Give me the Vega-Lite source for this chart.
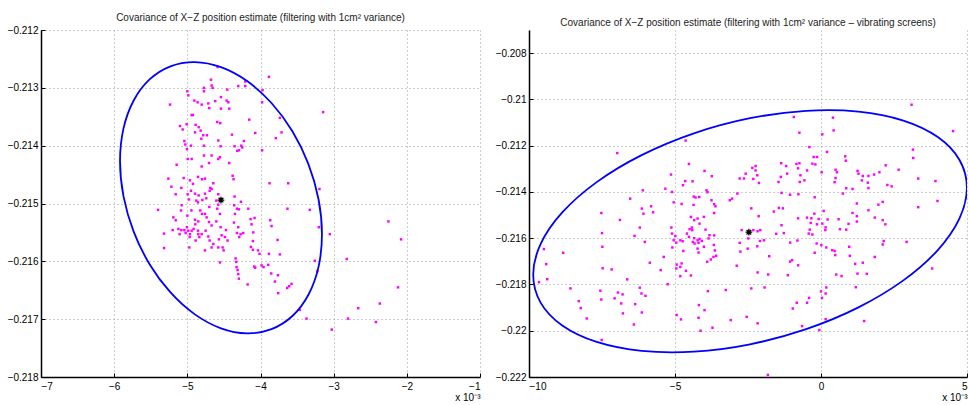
{
 "$schema": "https://vega.github.io/schema/vega-lite/v6.json",
 "background": "white",
 "padding": {"left": 7, "top": 13, "right": 0, "bottom": 0},
 "spacing": 49,
 "bounds": "flush",
 "config": {
  "font": "Liberation Sans",
  "view": {"stroke": null},
  "axis": {"grid": true, "gridColor": "#9a9a9a", "gridDash": [1, 3], "gridWidth": 1, "domainColor": "black", "domainWidth": 1.5, "tickColor": "black", "tickSize": -4, "labelFont": "Liberation Sans", "labelFontSize": 10, "labelColor": "black", "labelPadding": 7, "titleFont": "Liberation Sans", "titleFontSize": 10, "titleFontWeight": "normal", "titleColor": "black"},
  "axisX": {"labelPadding": 8},
  "title": {"font": "Liberation Sans", "fontSize": 10, "fontWeight": "normal", "color": "#222222", "offset": 2}
 },
 "datasets": {
  "leftPts": [
   {"x":-4.586,"z":-0.21264},{"x":-4.677,"z":-0.21286},{"x":-4.668,"z":-0.21296},{"x":-4.208,"z":-0.21289},{"x":-3.885,"z":-0.21281},
   {"x":-5.0,"z":-0.21306},{"x":-4.986,"z":-0.21313},{"x":-5.237,"z":-0.21329},{"x":-4.773,"z":-0.213},{"x":-4.773,"z":-0.21306},
   {"x":-4.654,"z":-0.213},{"x":-4.454,"z":-0.21303},{"x":-4.304,"z":-0.21297},{"x":-4.208,"z":-0.21297},{"x":-3.972,"z":-0.21304},
   {"x":-4.904,"z":-0.21322},{"x":-4.859,"z":-0.21325},{"x":-4.804,"z":-0.21329},{"x":-4.713,"z":-0.21327},{"x":-4.618,"z":-0.21323},
   {"x":-4.54,"z":-0.21316},{"x":-4.463,"z":-0.21322},{"x":-4.44,"z":-0.21325},{"x":-4.427,"z":-0.21336},{"x":-4.54,"z":-0.21336},
   {"x":-4.7,"z":-0.21335},{"x":-3.978,"z":-0.21325},{"x":-3.144,"z":-0.21342},{"x":-4.941,"z":-0.21347},{"x":-4.925,"z":-0.21347},
   {"x":-4.154,"z":-0.21355},{"x":-5.1,"z":-0.21366},{"x":-5.064,"z":-0.21372},{"x":-5.009,"z":-0.21363},{"x":-4.886,"z":-0.21364},
   {"x":-4.845,"z":-0.21368},{"x":-4.895,"z":-0.21377},{"x":-4.818,"z":-0.21374},{"x":-4.782,"z":-0.21382},{"x":-4.732,"z":-0.21382},
   {"x":-4.809,"z":-0.21388},{"x":-4.591,"z":-0.21359},{"x":-4.55,"z":-0.21361},{"x":-4.072,"z":-0.21378},{"x":-3.735,"z":-0.21352},
   {"x":-3.712,"z":-0.21377},{"x":-3.79,"z":-0.21387},{"x":-4.39,"z":-0.21381},{"x":-5.041,"z":-0.21392},{"x":-5.027,"z":-0.21398},
   {"x":-4.95,"z":-0.214},{"x":-5.005,"z":-0.21406},{"x":-4.773,"z":-0.214},{"x":-4.577,"z":-0.21391},{"x":-4.545,"z":-0.21401},
   {"x":-4.354,"z":-0.21401},{"x":-4.318,"z":-0.21409},{"x":-4.295,"z":-0.21408},{"x":-4.263,"z":-0.214},{"x":-4.227,"z":-0.21392},
   {"x":-4.249,"z":-0.21403},{"x":-3.978,"z":-0.21408},{"x":-5.146,"z":-0.21433},{"x":-4.995,"z":-0.21423},{"x":-4.941,"z":-0.21423},
   {"x":-4.773,"z":-0.21417},{"x":-4.668,"z":-0.21417},{"x":-4.577,"z":-0.21423},{"x":-4.554,"z":-0.2142},{"x":-4.804,"z":-0.21436},
   {"x":-4.704,"z":-0.2143},{"x":-4.427,"z":-0.2143},{"x":-5.05,"z":-0.21456},{"x":-4.964,"z":-0.2146},{"x":-4.923,"z":-0.21466},
   {"x":-4.854,"z":-0.21454},{"x":-4.8,"z":-0.21458},{"x":-4.759,"z":-0.21457},{"x":-5.259,"z":-0.21457},{"x":-5.218,"z":-0.21471},
   {"x":-5.159,"z":-0.21484},{"x":-5.082,"z":-0.21473},{"x":-4.995,"z":-0.21484},{"x":-4.95,"z":-0.21478},{"x":-4.895,"z":-0.21483},
   {"x":-4.845,"z":-0.21486},{"x":-4.977,"z":-0.21493},{"x":-4.877,"z":-0.21495},{"x":-4.854,"z":-0.21498},{"x":-4.795,"z":-0.21494},
   {"x":-4.741,"z":-0.21491},{"x":-4.695,"z":-0.21478},{"x":-4.668,"z":-0.21475},{"x":-4.645,"z":-0.21465},{"x":-4.686,"z":-0.21473},
   {"x":-4.759,"z":-0.21483},{"x":-4.577,"z":-0.21484},{"x":-4.604,"z":-0.21495},{"x":-4.577,"z":-0.21502},{"x":-4.381,"z":-0.21452},
   {"x":-4.368,"z":-0.21458},{"x":-4.354,"z":-0.21488},{"x":-4.268,"z":-0.21497},{"x":-4.359,"z":-0.21503},{"x":-3.621,"z":-0.21465},
   {"x":-3.631,"z":-0.21509},{"x":-5.4,"z":-0.21511},{"x":-5.318,"z":-0.21552},{"x":-5.318,"z":-0.21577},{"x":-5.191,"z":-0.21524},
   {"x":-5.159,"z":-0.21529},{"x":-5.2,"z":-0.21546},{"x":-5.123,"z":-0.21544},{"x":-5.082,"z":-0.21546},{"x":-5.105,"z":-0.21553},
   {"x":-5.041,"z":-0.21546},{"x":-5.023,"z":-0.21551},{"x":-5.005,"z":-0.21541},{"x":-4.986,"z":-0.21547},{"x":-4.964,"z":-0.21553},
   {"x":-4.968,"z":-0.21558},{"x":-4.941,"z":-0.21547},{"x":-4.914,"z":-0.21544},{"x":-4.891,"z":-0.21536},{"x":-4.854,"z":-0.21547},
   {"x":-4.85,"z":-0.21553},{"x":-4.804,"z":-0.21553},{"x":-4.836,"z":-0.21558},{"x":-4.886,"z":-0.21564},{"x":-5.077,"z":-0.21503},
   {"x":-5.086,"z":-0.21512},{"x":-5.0,"z":-0.21521},{"x":-4.945,"z":-0.21512},{"x":-4.895,"z":-0.21528},{"x":-4.85,"z":-0.21531},
   {"x":-4.823,"z":-0.21512},{"x":-4.8,"z":-0.21518},{"x":-4.759,"z":-0.21518},{"x":-4.7,"z":-0.21506},{"x":-4.591,"z":-0.21509},
   {"x":-4.554,"z":-0.21518},{"x":-4.736,"z":-0.21524},{"x":-4.704,"z":-0.21532},{"x":-4.668,"z":-0.21538},{"x":-4.604,"z":-0.21531},
   {"x":-4.545,"z":-0.21541},{"x":-4.75,"z":-0.21547},{"x":-4.713,"z":-0.21557},{"x":-4.695,"z":-0.21564},{"x":-4.645,"z":-0.2157},
   {"x":-4.668,"z":-0.21576},{"x":-4.577,"z":-0.21576},{"x":-4.568,"z":-0.21562},{"x":-4.531,"z":-0.21555},{"x":-4.486,"z":-0.21558},
   {"x":-4.518,"z":-0.21576},{"x":-4.504,"z":-0.21581},{"x":-4.45,"z":-0.21564},{"x":-4.472,"z":-0.21546},{"x":-4.554,"z":-0.21602},
   {"x":-4.973,"z":-0.21576},{"x":-4.759,"z":-0.21581},{"x":-4.363,"z":-0.21533},{"x":-4.349,"z":-0.21518},{"x":-4.322,"z":-0.21509},
   {"x":-4.295,"z":-0.2151},{"x":-4.167,"z":-0.21509},{"x":-4.304,"z":-0.21541},{"x":-4.322,"z":-0.21551},{"x":-4.29,"z":-0.21558},
   {"x":-4.272,"z":-0.21553},{"x":-4.236,"z":-0.21551},{"x":-4.136,"z":-0.21527},{"x":-4.122,"z":-0.21536},{"x":-4.081,"z":-0.21525},
   {"x":-4.099,"z":-0.2155},{"x":-4.104,"z":-0.21565},{"x":-4.131,"z":-0.21575},{"x":-4.104,"z":-0.2158},{"x":-4.035,"z":-0.21581},
   {"x":-4.013,"z":-0.21587},{"x":-3.985,"z":-0.21607},{"x":-3.958,"z":-0.2161},{"x":-3.894,"z":-0.21606},{"x":-4.34,"z":-0.21595},
   {"x":-4.331,"z":-0.21601},{"x":-4.327,"z":-0.2161},{"x":-4.313,"z":-0.21615},{"x":-4.304,"z":-0.21622},{"x":-4.295,"z":-0.2163},
   {"x":-4.176,"z":-0.2164},{"x":-4.086,"z":-0.21609},{"x":-4.072,"z":-0.21611},{"x":-3.849,"z":-0.21539},{"x":-3.767,"z":-0.21563},
   {"x":-3.735,"z":-0.21588},{"x":-3.885,"z":-0.21587},{"x":-3.853,"z":-0.21621},{"x":-3.762,"z":-0.21624},{"x":-3.803,"z":-0.21635},
   {"x":-3.758,"z":-0.21655},{"x":-3.635,"z":-0.21646},{"x":-3.608,"z":-0.21643},{"x":-3.576,"z":-0.21639},{"x":-3.326,"z":-0.21511},
   {"x":-3.203,"z":-0.21541},{"x":-3.194,"z":-0.21475},{"x":-3.258,"z":-0.21599},{"x":-3.221,"z":-0.21617},{"x":-3.053,"z":-0.21553},
   {"x":-2.821,"z":-0.21596},{"x":-2.803,"z":-0.21699},{"x":-3.462,"z":-0.21684},{"x":-3.371,"z":-0.21699},{"x":-2.252,"z":-0.21531},
   {"x":-2.079,"z":-0.21562},{"x":-2.12,"z":-0.21645},{"x":-2.37,"z":-0.21673},{"x":-2.664,"z":-0.21681},{"x":-2.423,"z":-0.21705},
   {"x":-3.026,"z":-0.21718},{"x":-3.867,"z":-0.21529},{"x":-3.876,"z":-0.21465}
  ],
  "leftEll": [
   {"i":0,"x":-3.16,"z":-0.215533},{"i":1,"x":-3.207,"z":-0.214927},{"i":2,"x":-3.345,"z":-0.214319},{"i":3,"x":-3.564,"z":-0.213751},
   {"i":4,"x":-3.85,"z":-0.213262},{"i":5,"x":-4.183,"z":-0.212883},{"i":6,"x":-4.54,"z":-0.212642},{"i":7,"x":-4.897,"z":-0.212555},
   {"i":8,"x":-5.23,"z":-0.212628},{"i":9,"x":-5.516,"z":-0.212855},{"i":10,"x":-5.735,"z":-0.213223},{"i":11,"x":-5.873,"z":-0.213705},
   {"i":12,"x":-5.92,"z":-0.214267},{"i":13,"x":-5.873,"z":-0.214873},{"i":14,"x":-5.735,"z":-0.215481},{"i":15,"x":-5.516,"z":-0.216049},
   {"i":16,"x":-5.23,"z":-0.216538},{"i":17,"x":-4.897,"z":-0.216917},{"i":18,"x":-4.54,"z":-0.217158},{"i":19,"x":-4.183,"z":-0.217245},
   {"i":20,"x":-3.85,"z":-0.217172},{"i":21,"x":-3.564,"z":-0.216945},{"i":22,"x":-3.345,"z":-0.216577},{"i":23,"x":-3.207,"z":-0.216095}
  ],
  "leftCtr": [{"x":-4.54,"z":-0.21494}],
  "rightPts": [
   {"x":3.102,"z":-0.21023},{"x":-0.932,"z":-0.21076},{"x":0.409,"z":-0.21079},{"x":-0.739,"z":-0.21144},{"x":0.432,"z":-0.21134},
   {"x":0.045,"z":-0.21151},{"x":4.523,"z":-0.21137},{"x":-4.636,"z":-0.21178},{"x":-0.398,"z":-0.21206},{"x":-6.977,"z":-0.21232},
   {"x":0.205,"z":-0.21227},{"x":-0.25,"z":-0.21249},{"x":-0.136,"z":-0.21249},{"x":3.148,"z":-0.21217},{"x":3.159,"z":-0.21253},
   {"x":0.83,"z":-0.21246},{"x":0.852,"z":-0.21265},{"x":-4.523,"z":-0.21279},{"x":-2.239,"z":-0.21288},{"x":-2.239,"z":-0.21307},
   {"x":-2.352,"z":-0.21296},{"x":-1.364,"z":-0.21276},{"x":-1.193,"z":-0.21288},{"x":-0.841,"z":-0.21279},{"x":-0.739,"z":-0.21276},
   {"x":-0.784,"z":-0.21298},{"x":-0.295,"z":-0.21278},{"x":-0.477,"z":-0.21307},{"x":0.023,"z":-0.21315},{"x":-0.193,"z":-0.21281},
   {"x":0.5,"z":-0.21304},{"x":0.545,"z":-0.21315},{"x":1.25,"z":-0.21309},{"x":1.284,"z":-0.21321},{"x":2.216,"z":-0.21285},
   {"x":2.0,"z":-0.21315},{"x":2.659,"z":-0.21304},{"x":0.466,"z":-0.21358},{"x":0.5,"z":-0.2134},{"x":1.432,"z":-0.21331},
   {"x":1.625,"z":-0.21331},{"x":1.602,"z":-0.2136},{"x":1.398,"z":-0.2135},{"x":1.818,"z":-0.21325},{"x":-3.989,"z":-0.21309},
   {"x":-5.136,"z":-0.21325},{"x":-3.739,"z":-0.21332},{"x":-2.784,"z":-0.21342},{"x":-2.58,"z":-0.21321},{"x":-2.636,"z":-0.21342},
   {"x":-2.182,"z":-0.21328},{"x":-2.125,"z":-0.21361},{"x":-2.318,"z":-0.21344},{"x":-1.455,"z":-0.21357},{"x":-1.375,"z":-0.21335},
   {"x":-1.159,"z":-0.21321},{"x":-0.727,"z":-0.21357},{"x":-0.568,"z":-0.2135},{"x":-0.705,"z":-0.21328},{"x":2.273,"z":-0.2137},
   {"x":2.42,"z":-0.21376},{"x":0.864,"z":-0.21384},{"x":1.08,"z":-0.21387},{"x":1.625,"z":-0.21383},{"x":3.92,"z":-0.21353},
   {"x":0.75,"z":-0.21407},{"x":-5.102,"z":-0.214},{"x":-5.33,"z":-0.21386},{"x":-6.102,"z":-0.21393},{"x":-6.534,"z":-0.21429},
   {"x":-4.727,"z":-0.21371},{"x":-4.648,"z":-0.21353},{"x":-4.398,"z":-0.21354},{"x":-3.92,"z":-0.21393},{"x":-3.886,"z":-0.21401},
   {"x":-4.295,"z":-0.21424},{"x":-4.36,"z":-0.2142},{"x":-4.17,"z":-0.21422},{"x":-3.75,"z":-0.21436},{"x":-3.659,"z":-0.21453},
   {"x":-2.864,"z":-0.21407},{"x":-3.125,"z":-0.21436},{"x":-3.045,"z":-0.21429},{"x":-1.352,"z":-0.21404},{"x":-1.057,"z":-0.21412},
   {"x":-0.773,"z":-0.2141},{"x":-0.216,"z":-0.21423},{"x":3.989,"z":-0.21439},{"x":3.33,"z":-0.21466},{"x":1.227,"z":-0.2145},
   {"x":1.966,"z":-0.21455},{"x":2.114,"z":-0.21443},{"x":-4.773,"z":-0.21452},{"x":-5.045,"z":-0.21445},{"x":-4.364,"z":-0.21456},
   {"x":-6.136,"z":-0.21472},{"x":-6.08,"z":-0.21494},{"x":-5.818,"z":-0.21462},{"x":-5.75,"z":-0.21488},{"x":-3.614,"z":-0.21462},
   {"x":-3.659,"z":-0.21491},{"x":-2.386,"z":-0.21471},{"x":-1.614,"z":-0.21485},{"x":-1.443,"z":-0.21469},{"x":-1.307,"z":-0.21471},
   {"x":-0.227,"z":-0.21494},{"x":0.091,"z":-0.21482},{"x":1.08,"z":-0.21491},{"x":1.227,"z":-0.21505},{"x":1.625,"z":-0.21479},
   {"x":1.841,"z":-0.21511},{"x":2.114,"z":-0.21522},{"x":-7.523,"z":-0.21491},{"x":-6.886,"z":-0.21521},{"x":0.227,"z":-0.21519},
   {"x":0.045,"z":-0.21537},{"x":0.159,"z":-0.21553},{"x":0.602,"z":-0.21518},{"x":0.648,"z":-0.21561},{"x":0.943,"z":-0.21538},
   {"x":1.227,"z":-0.21528},{"x":0.864,"z":-0.21563},{"x":2.205,"z":-0.2154},{"x":-0.477,"z":-0.21511},{"x":-0.33,"z":-0.21514},
   {"x":-0.784,"z":-0.21514},{"x":-0.352,"z":-0.21534},{"x":-0.136,"z":-0.2154},{"x":-0.386,"z":-0.21563},{"x":-0.42,"z":-0.2158},
   {"x":-1.534,"z":-0.21581},{"x":-1.273,"z":-0.21578},{"x":-0.807,"z":-0.2161},{"x":-1.057,"z":-0.21619},{"x":-2.136,"z":-0.21505},
   {"x":-2.08,"z":-0.21565},{"x":-2.17,"z":-0.2157},{"x":-2.318,"z":-0.21565},{"x":-2.716,"z":-0.21565},{"x":-2.489,"z":-0.21601},
   {"x":-2.511,"z":-0.21645},{"x":-2.784,"z":-0.2162},{"x":-2.761,"z":-0.21658},{"x":-2.182,"z":-0.21635},{"x":-2.091,"z":-0.21612},
   {"x":-1.955,"z":-0.21609},{"x":-1.352,"z":-0.21544},{"x":-1.057,"z":-0.21701},{"x":-0.784,"z":-0.21717},{"x":-0.295,"z":-0.21584},
   {"x":-0.148,"z":-0.21623},{"x":0.011,"z":-0.2163},{"x":0.182,"z":-0.2164},{"x":0.386,"z":-0.21652},{"x":0.489,"z":-0.21673},
   {"x":0.466,"z":-0.21655},{"x":0.966,"z":-0.21637},{"x":2.148,"z":-0.21612},{"x":2.114,"z":-0.21627},{"x":2.932,"z":-0.21616},
   {"x":1.841,"z":-0.21681},{"x":1.17,"z":-0.21711},{"x":1.25,"z":-0.21753},{"x":1.432,"z":-0.21706},{"x":1.568,"z":-0.21754},
   {"x":3.807,"z":-0.21731},{"x":0.523,"z":-0.21757},{"x":0.705,"z":-0.21764},{"x":3.33,"z":-0.21342},{"x":-5.125,"z":-0.21554},
   {"x":-5.102,"z":-0.2158},{"x":-4.989,"z":-0.21591},{"x":-5.045,"z":-0.21609},{"x":-5.091,"z":-0.2164},{"x":-4.955,"z":-0.21619},
   {"x":-4.818,"z":-0.21609},{"x":-4.739,"z":-0.21613},{"x":-4.591,"z":-0.2158},{"x":-4.5,"z":-0.21561},{"x":-4.42,"z":-0.21554},
   {"x":-4.523,"z":-0.21594},{"x":-4.386,"z":-0.21616},{"x":-4.341,"z":-0.216},{"x":-4.33,"z":-0.21623},{"x":-4.227,"z":-0.21609},
   {"x":-4.08,"z":-0.21612},{"x":-4.011,"z":-0.21637},{"x":-3.852,"z":-0.21601},{"x":-3.818,"z":-0.21587},{"x":-3.659,"z":-0.21588},
   {"x":-3.67,"z":-0.21629},{"x":-3.636,"z":-0.21653},{"x":-3.591,"z":-0.21676},{"x":-3.682,"z":-0.21681},{"x":-3.773,"z":-0.21692},
   {"x":-3.898,"z":-0.21702},{"x":-4.159,"z":-0.21603},{"x":-4.193,"z":-0.2162},{"x":-4.227,"z":-0.21645},{"x":-4.716,"z":-0.21655},
   {"x":-4.773,"z":-0.21709},{"x":-4.818,"z":-0.21724},{"x":-4.943,"z":-0.21714},{"x":-4.955,"z":-0.21731},{"x":-4.818,"z":-0.21764},
   {"x":-4.625,"z":-0.21741},{"x":-4.455,"z":-0.21761},{"x":-4.193,"z":-0.21662},{"x":-3.875,"z":-0.21829},{"x":-4.182,"z":-0.21889},
   {"x":-5.386,"z":-0.21681},{"x":-5.489,"z":-0.21738},{"x":-4.455,"z":-0.21508},{"x":-4.341,"z":-0.21522},{"x":-4.227,"z":-0.21515},
   {"x":-4.159,"z":-0.21537},{"x":-4.011,"z":-0.21508},{"x":-3.955,"z":-0.21563},{"x":-4.409,"z":-0.21565},{"x":-5.25,"z":-0.21799},
   {"x":-5.864,"z":-0.21706},{"x":-6.386,"z":-0.2159},{"x":-6.205,"z":-0.21554},{"x":-7.5,"z":-0.21578},{"x":-7.489,"z":-0.21637},
   {"x":-7.477,"z":-0.2173},{"x":-7.557,"z":-0.21827},{"x":-7.523,"z":-0.21865},{"x":-8.295,"z":-0.21872},{"x":-8.227,"z":-0.21902},
   {"x":-8.023,"z":-0.21947},{"x":-8.58,"z":-0.21817},{"x":-8.83,"z":-0.21663},{"x":-9.489,"z":-0.21647},{"x":-9.409,"z":-0.21712},
   {"x":-9.375,"z":-0.21777},{"x":-9.659,"z":-0.2179},{"x":-7.17,"z":-0.21735},{"x":-7.068,"z":-0.2186},{"x":-6.795,"z":-0.21843},
   {"x":-6.636,"z":-0.21778},{"x":-6.955,"z":-0.21835},{"x":-6.841,"z":-0.21882},{"x":-6.784,"z":-0.21925},{"x":-6.364,"z":-0.21885},
   {"x":-6.205,"z":-0.21814},{"x":-6.148,"z":-0.21839},{"x":-6.011,"z":-0.21849},{"x":-6.136,"z":-0.21921},{"x":-6.409,"z":-0.21973},
   {"x":-7.511,"z":-0.2204},{"x":-4.943,"z":-0.21932},{"x":-4.795,"z":-0.21951},{"x":-4.193,"z":-0.21944},{"x":-4.125,"z":-0.22},
   {"x":-3.989,"z":-0.21911},{"x":-3.716,"z":-0.21987},{"x":-3.091,"z":-0.21954},{"x":-3.261,"z":-0.21824},{"x":-2.886,"z":-0.21719},
   {"x":-2.545,"z":-0.2194},{"x":-2.17,"z":-0.21968},{"x":-2.386,"z":-0.21817},{"x":-2.17,"z":-0.21748},{"x":-1.932,"z":-0.21813},
   {"x":-1.773,"z":-0.21678},{"x":-1.807,"z":-0.21757},{"x":-1.818,"z":-0.22191},{"x":-0.966,"z":-0.21904},{"x":-0.83,"z":-0.21879},
   {"x":-0.989,"z":-0.21695},{"x":-1.136,"z":-0.2176},{"x":-0.477,"z":-0.21879},{"x":-0.409,"z":-0.21858},{"x":0.0,"z":-0.2183},
   {"x":0.034,"z":-0.21858},{"x":0.159,"z":-0.21839},{"x":0.182,"z":-0.21813},{"x":-0.057,"z":-0.21997},{"x":0.159,"z":-0.2195},
   {"x":-0.648,"z":-0.2198},{"x":1.477,"z":-0.21958},{"x":1.193,"z":-0.21812},{"x":0.989,"z":-0.21676},{"x":0.148,"z":-0.21565},
   {"x":-0.08,"z":-0.21517},{"x":-0.216,"z":-0.21663},{"x":-6.034,"z":-0.21616}
  ],
  "rightEll": [
   {"i":0,"x":4.996,"z":-0.213818},{"i":1,"x":4.743,"z":-0.212617},{"i":2,"x":4.001,"z":-0.211627},{"i":3,"x":2.821,"z":-0.210914},
   {"i":4,"x":1.283,"z":-0.210528},{"i":5,"x":-0.508,"z":-0.210494},{"i":6,"x":-2.43,"z":-0.210814},{"i":7,"x":-4.352,"z":-0.211468},
   {"i":8,"x":-6.143,"z":-0.21241},{"i":9,"x":-7.681,"z":-0.213576},{"i":10,"x":-8.861,"z":-0.214887},{"i":11,"x":-9.603,"z":-0.216253},
   {"i":12,"x":-9.856,"z":-0.217582},{"i":13,"x":-9.603,"z":-0.218783},{"i":14,"x":-8.861,"z":-0.219773},{"i":15,"x":-7.681,"z":-0.220486},
   {"i":16,"x":-6.143,"z":-0.220872},{"i":17,"x":-4.352,"z":-0.220906},{"i":18,"x":-2.43,"z":-0.220586},{"i":19,"x":-0.508,"z":-0.219932},
   {"i":20,"x":1.283,"z":-0.21899},{"i":21,"x":2.821,"z":-0.217824},{"i":22,"x":4.001,"z":-0.216513},{"i":23,"x":4.743,"z":-0.215147}
  ],
  "rightCtr": [{"x":-2.47,"z":-0.21574}]
 },
 "hconcat": [
  {
   "width": 439, "height": 347,
   "title": "Covariance of X−Z position estimate (filtering with 1cm² variance)",
   "encoding": {
    "x": {"field": "x", "type": "quantitative", "scale": {"domain": [-7, -1], "nice": false, "zero": false},
          "axis": {"values": [-7, -6, -5, -4, -3, -2, -1], "title": "x 10⁻³", "titleAnchor": "end", "titlePadding": 1}},
    "y": {"field": "z", "type": "quantitative", "scale": {"domain": [-0.218, -0.212], "nice": false, "zero": false},
          "axis": {"values": [-0.218, -0.217, -0.216, -0.215, -0.214, -0.213, -0.212], "format": ".3~f", "title": null}}
   },
   "layer": [
    {"data": {"name": "leftPts"}, "mark": {"type": "point", "shape": "square", "filled": true, "size": 6, "color": "#ff00ff", "opacity": 1}},
    {"data": {"name": "leftEll"}, "mark": {"type": "line", "interpolate": "cardinal-closed", "color": "#0000ff", "strokeWidth": 1.8, "clip": true},
     "encoding": {"order": {"field": "i", "type": "quantitative"}}},
    {"data": {"name": "leftCtr"}, "mark": {"type": "point", "shape": "M-1,0L1,0M0,-1L0,1M-0.7,-0.7L0.7,0.7M-0.7,0.7L0.7,-0.7", "filled": false, "stroke": "black", "strokeWidth": 1.3, "size": 45, "opacity": 1}}
   ]
  },
  {
   "width": 438, "height": 347,
   "title": "Covariance of X−Z position estimate (filtering with 1cm² variance – vibrating screens)",
   "encoding": {
    "x": {"field": "x", "type": "quantitative", "scale": {"domain": [-10, 5], "nice": false, "zero": false},
          "axis": {"values": [-10, -5, 0, 5], "title": "x 10⁻³", "titleAnchor": "end", "titlePadding": 1}},
    "y": {"field": "z", "type": "quantitative", "scale": {"domain": [-0.222, -0.207], "nice": false, "zero": false},
          "axis": {"values": [-0.222, -0.22, -0.218, -0.216, -0.214, -0.212, -0.21, -0.208], "format": ".3~f", "title": null}}
   },
   "layer": [
    {"data": {"name": "rightPts"}, "mark": {"type": "point", "shape": "square", "filled": true, "size": 6, "color": "#ff00ff", "opacity": 1}},
    {"data": {"name": "rightEll"}, "mark": {"type": "line", "interpolate": "cardinal-closed", "color": "#0000ff", "strokeWidth": 1.8, "clip": true},
     "encoding": {"order": {"field": "i", "type": "quantitative"}}},
    {"data": {"name": "rightCtr"}, "mark": {"type": "point", "shape": "M-1,0L1,0M0,-1L0,1M-0.7,-0.7L0.7,0.7M-0.7,0.7L0.7,-0.7", "filled": false, "stroke": "black", "strokeWidth": 1.3, "size": 45, "opacity": 1}}
   ]
  }
 ]
}
